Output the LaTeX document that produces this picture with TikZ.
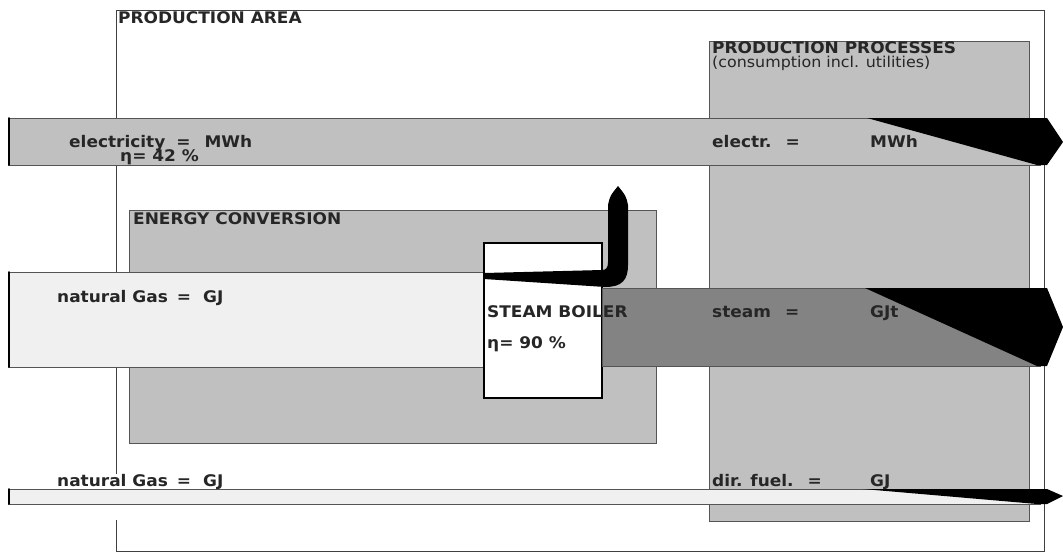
\documentclass[tikz,border=0pt]{standalone}
\usepackage{fontspec}
\setmainfont[FakeStretch=1.06]{DejaVu Sans}
\definecolor{boxgray}{HTML}{C0C0C0}
\definecolor{gasgray}{HTML}{F0F0F0}
\definecolor{steamgray}{HTML}{838383}
\definecolor{linegray}{HTML}{555555}
\definecolor{txtgray}{HTML}{262626}
\begin{document}
\begin{tikzpicture}[x=1pt,y=-1pt,
    area/.style={draw=linegray,line width=1pt},
    band/.style={draw=linegray,line width=1pt},
    lbl/.style={anchor=base west,inner sep=0pt,text=txtgray,
        font=\bfseries\fontsize{16}{18}\selectfont},
    sub/.style={lbl,font=\fontsize{15}{17}\selectfont}]
\useasboundingbox (0,0) rectangle (1063,552);
% areas
    \draw[area,draw=black!75] (116,474) -- (116,10) -- (1044,10) -- (1044,551) -- (116,551) -- (116,520);
    \filldraw[area,fill=boxgray] (709,41) rectangle (1029,521);
    \filldraw[area,fill=boxgray] (129,210) rectangle (656,443);
% flows in
    \filldraw[band,fill=boxgray] (8,118) rectangle (1040,165);
    \filldraw[band,fill=gasgray] (8,272) rectangle (484,367);
    \filldraw[band,fill=gasgray] (8,489) rectangle (1040,504);
    \foreach \a/\b in {118/165,272/367,489/504}{
        \draw[line width=1.8pt,line cap=round] (9,\a) -- (9,\b);
    }
% boiler and steam
    \filldraw[draw=black,line width=1.2pt,fill=white] (484,243) rectangle (602,398);
    \filldraw[band,fill=steamgray] (602,288) rectangle (1040,366);
% losses
    \fill (484,273) -- (602,270) .. controls (606,270) and (608,268) .. (608,262)
        -- (608,205) .. controls (610,196) .. (618,186) .. controls (626,196) .. (628,205)
        -- (628,265) .. controls (628,280) and (622,287) .. (605,287) -- (484,279) -- cycle;
    \foreach \a/\b/\c/\t in {118/165/867/142,288/366/865/327,489/504/863/496}{
        \fill (\c,\a) -- (1047,\a) -- (1063,\t) -- (1047,\b) -- (1037,\b) -- cycle;
    }
% labels
    \node[lbl] (area) at (118,23) {PRODUCTION AREA};
    \node[lbl] (proc) at (712,53) {PRODUCTION PROCESSES};
    \node[sub] (cons) at (712,67) {(consumption incl. utilities)};
    \node[lbl] (conv) at (133,224) {ENERGY CONVERSION};
    \node[lbl] (elin) at (69,147) {electricity\hspace{11pt}=\hspace{14pt}MWh};
    \node[lbl] (eleta) at (120,161) {η= 42 \%};
    \node[lbl] (gasin) at (57,302) {natural Gas\hspace{9pt}=\hspace{12pt}GJ};
    \node[lbl] (fuelin) at (57,486) {natural Gas\hspace{9pt}=\hspace{12pt}GJ};
    \node[lbl] (boiler) at (487,317) {STEAM BOILER};
    \node[lbl] (boileta) at (487,348) {η= 90 \%};
    \foreach \y/\v/\t/\u in {147/el/electr./MWh,317/st/steam/GJt,486/fu/dir. fuel./GJ}{
        \node[lbl] (\v) at (712,\y) {\t\hspace{14pt}=};
        \node[lbl] (\v u) at (870,\y) {\u};
    }
\end{tikzpicture}
\end{document}
